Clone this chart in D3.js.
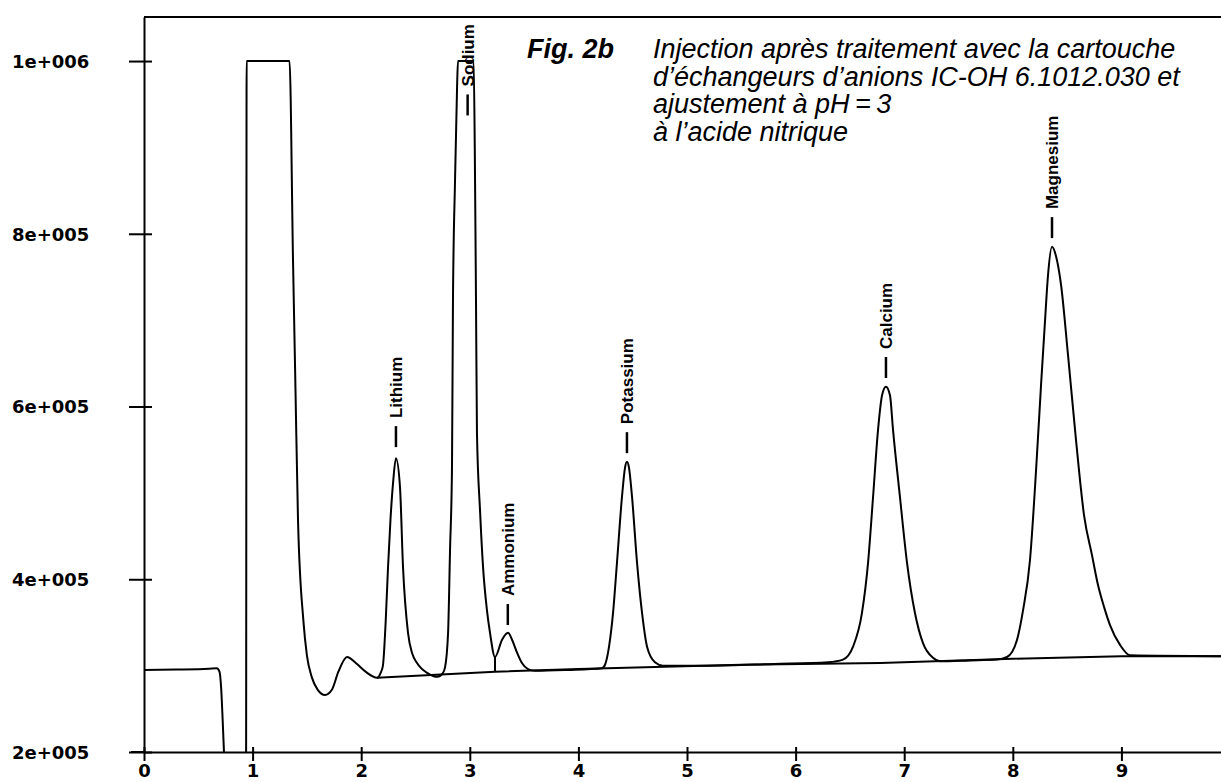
<!DOCTYPE html>
<html>
<meta charset="utf-8">
<script src="https://d3js.org/d3.v7.min.js"></script>
<style>
  body { margin: 0; background: #fff; }
  .axis path, .axis line { stroke: #000; stroke-width: 2px; }
  .axis text { font-family: "DejaVu Sans", sans-serif; font-weight: bold; font-size: 18px; fill: #000; }
  .trace { fill: none; stroke: #000; stroke-width: 2px; }
  .peak-name { font-family: "Liberation Sans", Arial, sans-serif; font-weight: bold; font-size: 17px; }
  .caption { font-family: "Liberation Sans", Arial, sans-serif; font-style: italic; font-size: 27px; }
</style>
<div id="chart"></div>
<script>

// chromatogram trace (time in min, detector signal)
var traceTime = [0, 0.30, 0.60, 0.67, 0.695, 0.71, 0.725, 0.74, 0.76, 0.92, 0.94, 0.945,
  1.34, 1.372, 1.395, 1.418, 1.467, 1.50, 1.544, 1.60, 1.667, 1.73, 1.79, 1.87, 1.95, 2.04,
  2.146, 2.18, 2.20, 2.225, 2.247, 2.27, 2.293, 2.32, 2.357, 2.385, 2.431, 2.47, 2.514, 2.615,
  2.70, 2.75, 2.772, 2.80, 2.818, 2.836, 2.845, 2.864, 2.882, 2.891, 3.035, 3.046, 3.057,
  3.066, 3.094, 3.122, 3.158, 3.186, 3.232, 3.297, 3.352, 3.389, 3.435, 3.48, 3.536, 3.60,
  3.90, 4.217, 4.245, 4.282, 4.319, 4.355, 4.401, 4.429, 4.447, 4.466, 4.494, 4.540, 4.586,
  4.632, 4.705, 4.779, 5.20, 5.80, 6.30, 6.436, 6.529, 6.611, 6.667, 6.713, 6.759, 6.796,
  6.832, 6.869, 6.897, 6.961, 7.026, 7.099, 7.173, 7.265, 7.33, 7.60, 7.85, 7.947, 8.039,
  8.094, 8.158, 8.214, 8.260, 8.297, 8.324, 8.361, 8.398, 8.444, 8.508, 8.582, 8.656, 8.729,
  8.785, 8.840, 8.895, 8.987, 9.079, 9.917];
var traceSignal = [295000, 295500, 296500, 297000, 293000, 275000, 235000, 190000, 160000, 160000, 190000, 1000000,
  1000000, 770000, 619000, 469000, 353000, 312000, 287000, 272000, 266000, 272000, 293000, 310000, 303000, 293000,
  286000, 292000, 300000, 350000, 414000, 470000, 511000, 540000, 507000, 414000, 338000, 314000, 303000, 291000,
  287000, 291000, 298000, 338000, 434000, 530000, 723000, 862000, 966000, 1000000, 1000000, 897000, 723000,
  569000, 480000, 414000, 364000, 338000, 310000, 330000, 338000, 330000, 315000, 303000, 296000, 294000,
  295000, 297000, 301000, 322000, 361000, 419000, 495000, 529000, 536000, 529000, 495000, 419000, 361000,
  322000, 304000, 300000, 300000, 302000, 304000, 307000, 322000, 361000, 419000, 495000, 573000, 613000,
  623000, 613000, 573000, 495000, 419000, 361000, 326000, 309000, 305000, 306000, 307000, 310000, 330000,
  364000, 422000, 526000, 625000, 700000, 752000, 785000, 774000, 741000, 660000, 561000, 474000, 428000,
  393000, 368000, 347000, 324000, 312000, 311000];

// integration baseline drawn under the peaks
var baseTime = [2.146, 3.232, 4.0, 5.5, 6.78, 8.0, 9.0, 9.917];
var baseSignal = [286000, 293000, 296000, 301000, 303000, 308000, 311000, 311000];

// drop line between sodium and ammonium
var dropTime = [3.232, 3.232];
var dropSignal = [310000, 293000];

// peak annotations
var peakNames = ["Lithium", "Sodium", "Ammonium", "Potassium", "Calcium", "Magnesium"];
var peakTimes = [2.32, 2.98, 3.35, 4.447, 6.832, 8.361];
var peakMarkSignal = [553000, 937000, 347000, 546000, 633000, 795000];

var yTicks = [200000, 400000, 600000, 800000, 1000000];
var yTickLabels = ["2e+005", "4e+005", "6e+005", "8e+005", "1e+006"];
var xTicks = [0, 1, 2, 3, 4, 5, 6, 7, 8, 9];
var xTickLabels = ["0", "1", "2", "3", "4", "5", "6", "7", "8", "9"];

var captionHead = "Fig. 2b";
var captionLines = [
  "Injection après traitement avec la cartouche",
  "d’échangeurs d’anions IC-OH 6.1012.030 et",
  "ajustement à pH\u2009=\u20093",
  "à l’acide nitrique"
];

var width = 1221, height = 782;
var margin = {top: 17, right: 0, bottom: 30, left: 144};

var svg = d3.select("#chart")
  .append("svg")
    .attr("width", width)
    .attr("height", height);

var x = d3.scaleLinear()
  .domain([0, 9.917])
  .range([margin.left, width - margin.right]);

var y = d3.scaleLinear()
  .domain([200000, 1051000])
  .range([height - margin.bottom, margin.top]);

// clip the trace to the frame
svg.append("clipPath")
  .attr("id", "plotclip")
  .append("rect")
    .attr("x", x.range()[0])
    .attr("y", y.range()[1])
    .attr("width", x.range()[1] - x.range()[0])
    .attr("height", y.range()[0] - y.range()[1]);

//------------//
//   Axes     //
//------------//

// y axis: ticks cross the axis line, so draw an outer and an inner half
var yAxis = svg.append("g")
  .attr("class", "axis")
  .attr("transform", "translate(" + margin.left + ",0)")
  .call(d3.axisLeft(y)
    .tickValues(yTicks)
    .tickSize(15)
    .tickSizeOuter(0)
    .tickFormat(function(d, i) { return yTickLabels[i]; }));
yAxis.selectAll("text")
  .attr("text-anchor", "start")
  .attr("x", 12 - margin.left)
  .attr("dy", "0.35em");

svg.append("g")
  .attr("class", "axis")
  .attr("transform", "translate(" + margin.left + ",0)")
  .call(d3.axisRight(y).tickValues(yTicks).tickSize(8).tickFormat(""))
  .select(".domain").remove();

// x axis
svg.append("g")
  .attr("class", "axis")
  .attr("transform", "translate(0," + y(200000) + ")")
  .call(d3.axisBottom(x)
    .tickValues(xTicks)
    .tickSize(9)
    .tickSizeOuter(0)
    .tickPadding(3)
    .tickFormat(function(d, i) { return xTickLabels[i]; }));

svg.append("g")
  .attr("class", "axis")
  .attr("transform", "translate(0," + y(200000) + ")")
  .call(d3.axisTop(x).tickValues(xTicks).tickSize(5).tickFormat(""))
  .select(".domain").remove();

// bottom axis runs a little past the y axis
svg.append("line")
  .attr("x1", margin.left - 13).attr("x2", margin.left)
  .attr("y1", y(200000)).attr("y2", y(200000))
  .attr("stroke", "#000").attr("stroke-width", 2);

// top border of the frame
svg.append("line")
  .attr("x1", x(0)).attr("x2", x(9.917))
  .attr("y1", y(1051000)).attr("y2", y(1051000))
  .attr("stroke", "#000").attr("stroke-width", 2);

//------------//
//   Trace    //
//------------//

var line = d3.line()
  .x(function(d) { return x(d[0]); })
  .y(function(d) { return y(d[1]); })
  .curve(d3.curveMonotoneX);

svg.append("path")
  .datum(d3.zip(traceTime, traceSignal))
  .attr("class", "trace")
  .attr("clip-path", "url(#plotclip)")
  .attr("d", line);

svg.append("path")
  .datum(d3.zip(baseTime, baseSignal))
  .attr("class", "trace")
  .attr("d", line.curve(d3.curveLinear));

svg.append("path")
  .datum(d3.zip(dropTime, dropSignal))
  .attr("class", "trace")
  .attr("d", line);

//------------------//
//   Peak labels    //
//------------------//

var marks = svg.append("g")
  .selectAll("g")
  .data(d3.zip(peakNames, peakTimes, peakMarkSignal))
  .enter()
  .append("g")
    .attr("transform", function(d) { return "translate(" + x(d[1]) + "," + y(d[2]) + ")"; });

marks.append("line")
  .attr("x1", 0).attr("x2", 0)
  .attr("y1", 0).attr("y2", -21)
  .attr("stroke", "#000")
  .attr("stroke-width", 2.5);

marks.append("text")
  .attr("class", "peak-name")
  .attr("transform", "translate(0,-29) rotate(-90)")
  .attr("dy", "0.36em")
  .text(function(d) { return d[0]; });

//--------------//
//   Caption    //
//--------------//

svg.append("text")
  .attr("class", "caption")
  .attr("x", 527)
  .attr("y", 58)
  .style("font-weight", "bold")
  .text(captionHead);

svg.append("g")
  .selectAll("text")
  .data(captionLines)
  .enter()
  .append("text")
    .attr("class", "caption")
    .attr("x", 653)
    .attr("y", function(d, i) { return 58 + i * 27.5; })
    .text(function(d) { return d; });

</script>
</html>
